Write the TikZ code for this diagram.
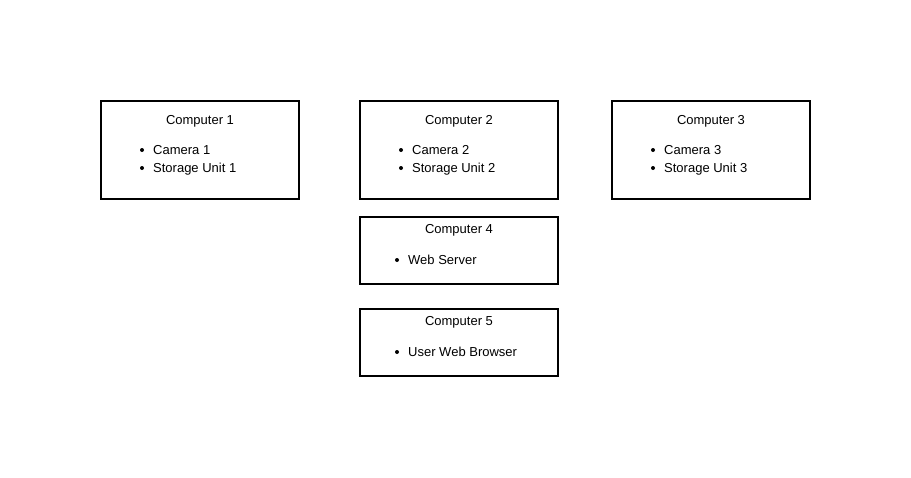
\documentclass[tikz,border=0pt]{standalone}
\usepackage{fontspec}
\setmainfont{Liberation Sans}
\begin{document}
\begin{tikzpicture}[x=1pt,y=-1pt,
  box/.style={draw=black,line width=2pt,fill=white,inner sep=0pt,minimum width=198pt},
  ttl/.style={anchor=base,inner sep=0pt,font=\fontsize{13pt}{15pt}\selectfont},
  itm/.style={anchor=base west,inner sep=0pt,font=\fontsize{13pt}{15pt}\selectfont},
  bul/.style={circle,fill=black,inner sep=0pt,minimum size=4pt}]
\useasboundingbox (0,0) rectangle (911,477);
\fill[white] (0,0) rectangle (911,477);
% boxes
\node[box,minimum height=98pt] (c1) at (200,150) {};
\node[box,minimum height=98pt] (c2) at (459,150) {};
\node[box,minimum height=98pt] (c3) at (711,150) {};
\node[box,minimum height=67pt] (c4) at (459,250.5) {};
\node[box,minimum height=67pt] (c5) at (459,342.5) {};
% Computer 1
\node[ttl] (t1) at (200,124) {Computer 1};
\node[bul] (b11) at (142,150) {};
\node[itm] (i11) at (153,154.5) {Camera 1};
\node[bul] (b12) at (142,168) {};
\node[itm] (i12) at (153,172.5) {Storage Unit 1};
% Computer 2
\node[ttl] (t2) at (459,124) {Computer 2};
\node[bul] (b21) at (401,150) {};
\node[itm] (i21) at (412,154.5) {Camera 2};
\node[bul] (b22) at (401,168) {};
\node[itm] (i22) at (412,172.5) {Storage Unit 2};
% Computer 3
\node[ttl] (t3) at (711,124) {Computer 3};
\node[bul] (b31) at (653,150) {};
\node[itm] (i31) at (664,154.5) {Camera 3};
\node[bul] (b32) at (653,168) {};
\node[itm] (i32) at (664,172.5) {Storage Unit 3};
% Computer 4
\node[ttl] (t4) at (459,233.5) {Computer 4};
\node[bul] (b41) at (397,260) {};
\node[itm] (i41) at (408,264.5) {Web Server};
% Computer 5
\node[ttl] (t5) at (459,325.5) {Computer 5};
\node[bul] (b51) at (397,352) {};
\node[itm] (i51) at (408,356.5) {User Web Browser};
\end{tikzpicture}
\end{document}
